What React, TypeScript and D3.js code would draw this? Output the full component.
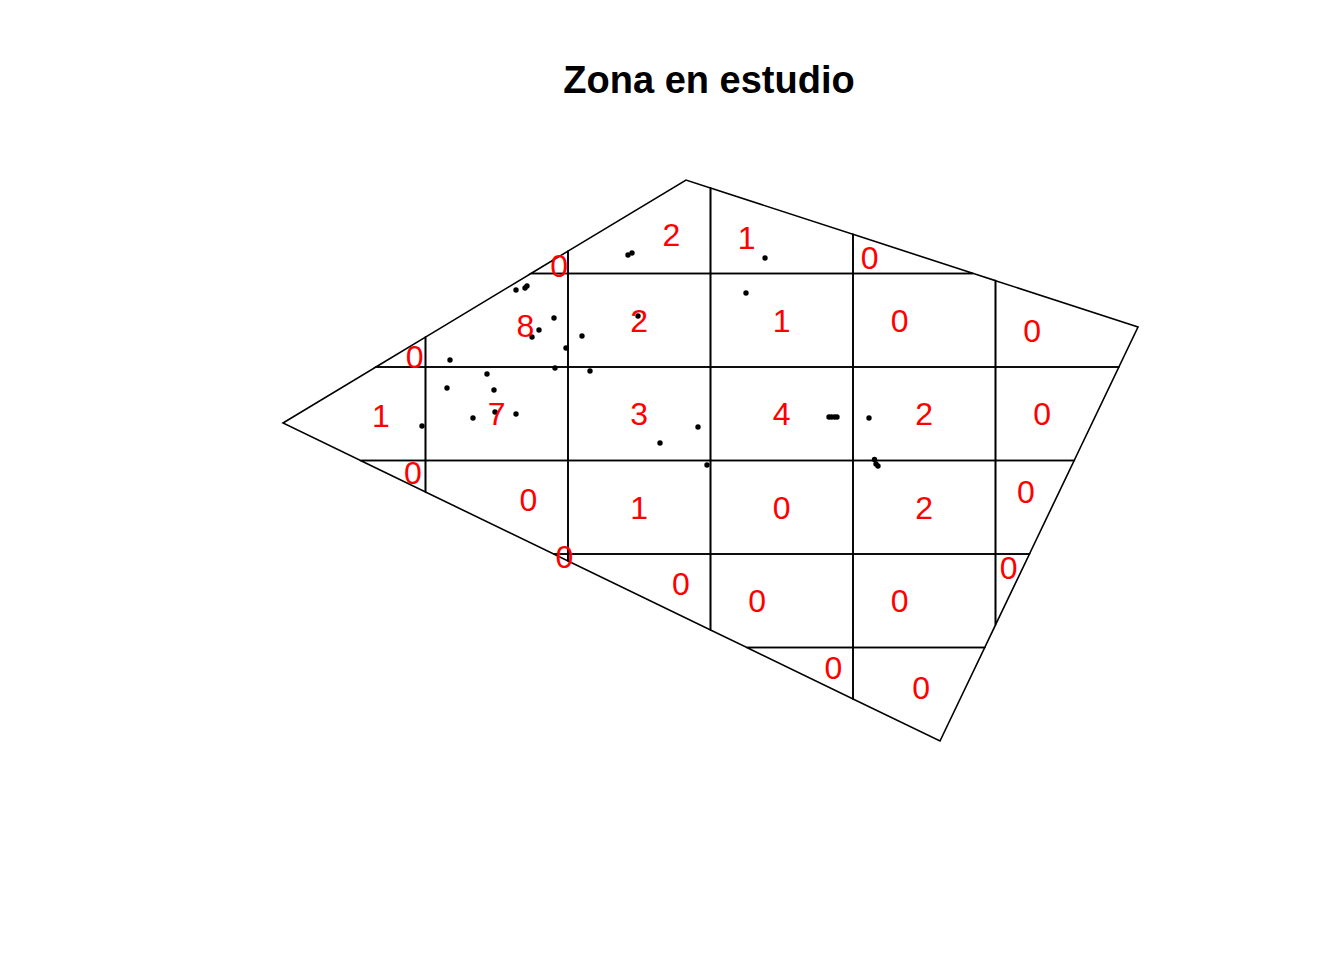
import * as d3 from 'd3'

// study window (polygon vertices, map units)
const windowX = [0, 4.03, 8.55, 6.57]
const windowY = [3.18, 5.61, 4.14, 0]

// quadrat grid
const nx = 6
const ny = 6

// quadrat counts, rows top to bottom, null = quadrat outside the window
const counts: (number | null)[][] = [
  [null, 0, 2, 1, 0, null],
  [0, 8, 2, 1, 0, 0],
  [1, 7, 3, 4, 2, 0],
  [0, 0, 1, 0, 2, 0],
  [null, 0, 0, 0, 0, 0],
  [null, null, null, 0, 0, null],
]

// observed points
const ptsX = [
  3.45, 3.49, 4.82, 2.33, 2.42, 2.44, 2.71, 2.56, 2.49, 2.83, 1.67, 2.99, 3.55, 4.63,
  1.39, 2.72, 2.04, 1.64, 2.11, 1.9, 2.33, 2.12, 3.07, 3.77, 4.15, 5.46, 5.485, 5.515,
  5.54, 5.86, 5.915, 4.24, 5.93, 5.95,
]
const ptsY = [
  4.86, 4.88, 4.83, 4.51, 4.53, 4.55, 4.23, 4.11, 4.04, 3.93, 3.81, 4.05, 4.25, 4.48,
  3.15, 3.73, 3.67, 3.53, 3.51, 3.23, 3.27, 3.29, 3.7, 2.98, 3.14, 3.24, 3.24, 3.24,
  3.24, 3.23, 2.815, 2.76, 2.77, 2.75,
]

type Pt = [number, number]

const cross = (ax: number, ay: number, bx: number, by: number) => ax * by - ay * bx

// Sutherland-Hodgman clip of a polygon by a convex polygon
function clipPoly(subject: Pt[], clip: Pt[]): Pt[] {
  let area = 0
  clip.forEach((p, i) => {
    const q = clip[(i + 1) % clip.length]
    area += p[0] * q[1] - q[0] * p[1]
  })
  const s = Math.sign(area)
  let out = subject
  for (let i = 0; i < clip.length && out.length; i++) {
    const a = clip[i]
    const b = clip[(i + 1) % clip.length]
    const ex = b[0] - a[0]
    const ey = b[1] - a[1]
    const inside = (p: Pt) => s * cross(ex, ey, p[0] - a[0], p[1] - a[1]) >= 0
    const inter = (p: Pt, q: Pt): Pt => {
      const t = -cross(ex, ey, p[0] - a[0], p[1] - a[1]) / cross(ex, ey, q[0] - p[0], q[1] - p[1])
      return [p[0] + t * (q[0] - p[0]), p[1] + t * (q[1] - p[1])]
    }
    const input = out
    out = []
    for (let j = 0; j < input.length; j++) {
      const cur = input[j]
      const prev = input[(j + input.length - 1) % input.length]
      if (inside(cur)) {
        if (!inside(prev)) out.push(inter(prev, cur))
        out.push(cur)
      } else if (inside(prev)) {
        out.push(inter(prev, cur))
      }
    }
  }
  return out
}

function segDist(p: Pt, a: Pt, b: Pt) {
  const dx = b[0] - a[0]
  const dy = b[1] - a[1]
  const len = dx * dx + dy * dy
  let t = len ? ((p[0] - a[0]) * dx + (p[1] - a[1]) * dy) / len : 0
  t = Math.max(0, Math.min(1, t))
  return Math.hypot(p[0] - a[0] - t * dx, p[1] - a[1] - t * dy)
}

// label point: the point furthest from the tile boundary (leftmost of ties)
function labelPoint(poly: Pt[]): Pt {
  const [x0, x1] = d3.extent(poly, (d) => d[0]) as [number, number]
  const [y0, y1] = d3.extent(poly, (d) => d[1]) as [number, number]
  const step = 0.5
  let best = -1
  let hits: Pt[] = []
  for (let px = x0; px <= x1; px += step) {
    for (let py = y0; py <= y1; py += step) {
      const p: Pt = [px, py]
      if (!d3.polygonContains(poly, p)) continue
      let m = Infinity
      for (let i = 0; i < poly.length; i++) m = Math.min(m, segDist(p, poly[i], poly[(i + 1) % poly.length]))
      if (m > best + 0.25) {
        best = m
        hits = [p]
      } else if (m >= best - 0.25) {
        hits.push(p)
      }
    }
  }
  if (!hits.length) return d3.polygonCentroid(poly) as Pt
  const minX = d3.min(hits, (d) => d[0])!
  const left = hits.filter((d) => d[0] <= minX + 0.5)
  return [d3.mean(left, (d) => d[0])!, d3.mean(left, (d) => d[1])!]
}

const App = () => {
  const width = 1344
  const height = 960

  const xMax = d3.max(windowX)!
  const yMax = d3.max(windowY)!
  const x = d3.scaleLinear().domain([0, xMax]).range([283, 1138])
  const y = d3.scaleLinear().domain([0, yMax]).range([741, 180])

  const win: Pt[] = windowX.map((v, i) => [x(v), y(windowY[i])])
  const xBreaks = d3.range(nx + 1).map((i) => x((xMax * i) / nx))
  const yBreaks = d3.range(ny + 1).map((i) => y(yMax - (yMax * i) / ny))

  const tiles: { poly: Pt[]; label: Pt; n: number | null }[] = []
  counts.forEach((row, r) => {
    row.forEach((n, c) => {
      const rect: Pt[] = [
        [xBreaks[c], yBreaks[r]],
        [xBreaks[c + 1], yBreaks[r]],
        [xBreaks[c + 1], yBreaks[r + 1]],
        [xBreaks[c], yBreaks[r + 1]],
      ]
      const poly = clipPoly(rect, win)
      const area = Math.abs(d3.polygonArea(poly))
      if (poly.length < 3 || area < 1) return
      const rectArea = Math.abs(d3.polygonArea(rect))
      // whole quadrats are labelled at their centre
      const label: Pt =
        Math.abs(area - rectArea) < 0.5
          ? [(xBreaks[c] + xBreaks[c + 1]) / 2, (yBreaks[r] + yBreaks[r + 1]) / 2]
          : labelPoint(poly)
      tiles.push({ poly, label, n })
    })
  })

  const line = d3.line()

  return (
    <svg width={width} height={height} style={{ position: 'absolute', left: 0, top: 0, background: '#fff' }}>
      <text
        x={709}
        y={93}
        textAnchor="middle"
        fontFamily="'Liberation Sans', Arial, sans-serif"
        fontWeight="bold"
        fontSize={38}
      >
        Zona en estudio
      </text>

      {tiles.map((t, i) => (
        <path key={`t${i}`} d={line(t.poly)! + 'Z'} fill="none" stroke="#000" strokeWidth={1.6} />
      ))}

      {ptsX.map((v, i) => (
        <circle key={`p${i}`} cx={x(v)} cy={y(ptsY[i])} r={2.7} fill="#000" />
      ))}

      {tiles
        .filter((t) => t.n !== null)
        .map((t, i) => (
          <text
            key={`l${i}`}
            x={t.label[0]}
            y={t.label[1] + 11.5}
            textAnchor="middle"
            fill="#ff0000"
            fontFamily="'Liberation Sans', Arial, sans-serif"
            fontSize={32}
          >
            {t.n}
          </text>
        ))}
    </svg>
  )
}

export default App
